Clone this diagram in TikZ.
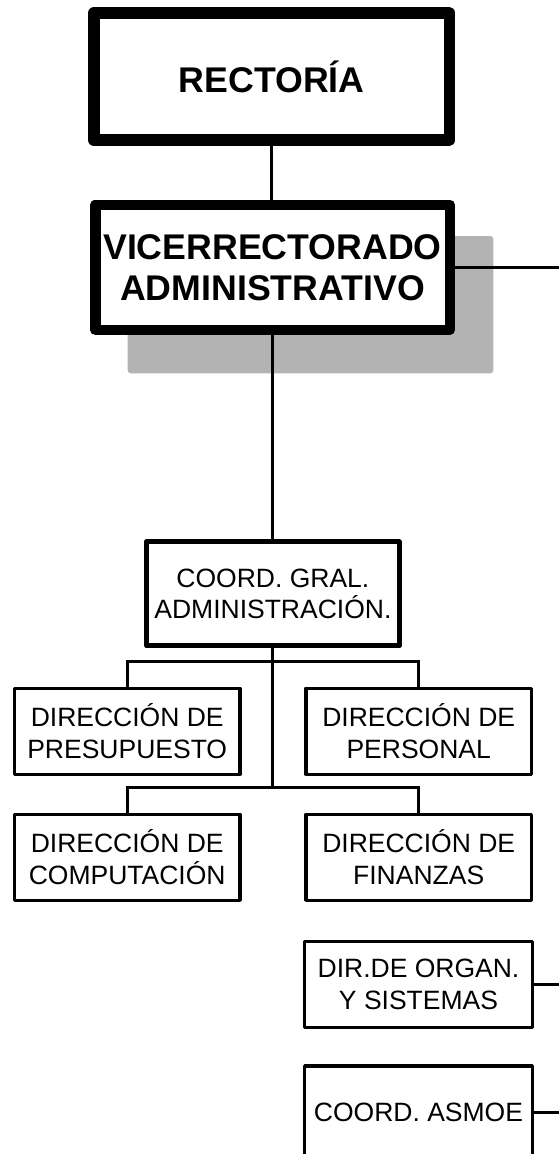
\documentclass[tikz,border=0pt]{standalone}
\usepackage{fontspec}
\setmainfont{Liberation Sans}
\usetikzlibrary{positioning,calc}
\definecolor{shadowgray}{RGB}{179,179,179}

\begin{document}
\begin{tikzpicture}[x=1pt, y=-1pt,
    topbox/.style={draw, fill=white, line join=round, inner sep=0pt, align=center,
        font=\fontsize{35.7}{41}\selectfont\bfseries},
    unitbox/.style={draw, fill=white, line join=round, inner sep=0pt, align=center,
        line width=3.3pt, minimum width=225.7pt, minimum height=86pt,
        font=\fontsize{26.5}{31.7}\selectfont},
    link/.style={line width=3pt}
]
    % Frame
    \useasboundingbox (0,0) rectangle (559,1154);

    % Shadow behind the vice-rectorate
    \fill[shadowgray, rounded corners=3pt] (127.7,236) rectangle (493.3,373.3);

    % === Top levels ===
    \node[topbox, line width=11.7pt, minimum width=355.3pt, minimum height=127.3pt]
        (rect) at (271.7,76.5) {RECTORÍA};
    \node[topbox, line width=10.5pt, minimum width=354.5pt, minimum height=125pt]
        (vice) at (272.5,267.3) {VICERRECTORADO\\ADMINISTRATIVO};

    % === Coordination ===
    \node[unitbox, line width=5pt, minimum width=252.7pt, minimum height=104pt]
        (coord) at (272.9,593.8) {COORD. GRAL.\\ADMINISTRACIÓN.};

    % === Directions ===
    \node[unitbox] (pres) at (127.2,731.2) {DIRECCIÓN DE\\PRESUPUESTO};
    \node[unitbox] (pers) at (418.7,731.2) {DIRECCIÓN DE\\PERSONAL};
    \node[unitbox] (comp) at (127.2,857.3) {DIRECCIÓN DE\\COMPUTACIÓN};
    \node[unitbox] (fin)  at (418.7,857.3) {DIRECCIÓN DE\\FINANZAS};

    % === Staff units ===
    \node[unitbox, minimum width=227.7pt] (org) at (418.5,984.5) {DIR.DE ORGAN.\\Y SISTEMAS};
    \node[unitbox, minimum width=227.7pt, minimum height=92pt] (asmoe) at (418.5,1112) {COORD. ASMOE};

    % Junction points
    \coordinate (busA) at (272.9,661);
    \coordinate (busB) at (272.9,787);
    \coordinate (edgeV) at (559,267.3);
    \coordinate (edgeO) at (559,984.5);
    \coordinate (edgeA) at (559,1112);

    % Connectors
    \draw[link] (rect.south) -- (rect.south |- vice.north);
    \draw[link] (vice.south) -- (vice.south |- coord.north);
    \draw[link] (coord.south) -- (busB);
    \draw[link] (pres.north) |- (busA) -| (pers.north);
    \draw[link] (comp.north) |- (busB) -| (fin.north);
    \draw[link] (vice.east) -- (edgeV);
    \draw[link] (org.east) -- (edgeO);
    \draw[link] (asmoe.east) -- (edgeA);
\end{tikzpicture}
\end{document}
